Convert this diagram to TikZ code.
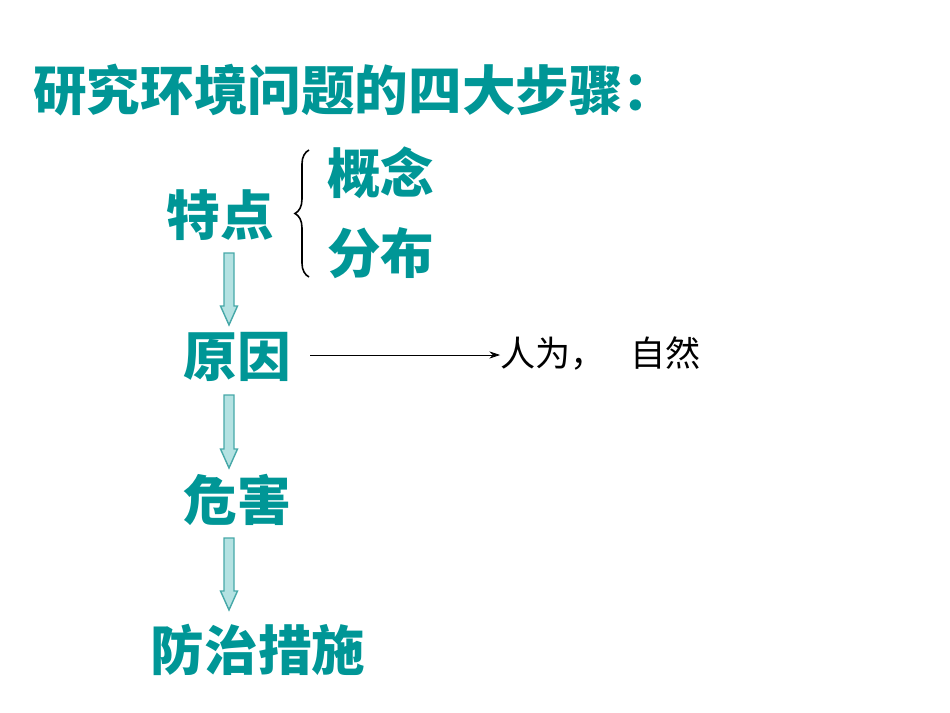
\documentclass[tikz,border=0pt]{standalone}
\usepackage{fontspec}
\setmainfont{Noto Sans CJK SC}
\usepackage{tikz}
\usetikzlibrary{decorations.pathreplacing}
\usetikzlibrary{arrows.meta}
\definecolor{tealtext}{RGB}{0,150,150}
\definecolor{arrowfill}{RGB}{180,226,226}
\definecolor{arrowline}{RGB}{70,168,168}

\begin{document}
\begin{tikzpicture}[x=0.02cm,y=-0.02cm,
  bigword/.style={text=tealtext,font=\fontsize{30.5}{33}\selectfont\bfseries,inner sep=0pt},
  smallword/.style={text=black,font=\fontsize{20}{23}\selectfont,inner sep=0pt},
  blockarrow/.style={draw=arrowline,fill=arrowfill,line width=0.8pt,line join=miter}]
  \useasboundingbox (0,0) rectangle (950,713);

  \node [bigword,anchor=west] (title) at (33,90) {研究环境问题的四大步骤：};

  \node [bigword] (tedian) at (220,215) {特点};
  \node [bigword,anchor=west] (gainian) at (327,173) {概念};
  \node [bigword,anchor=west] (fenbu) at (327,253) {分布};
  \coordinate (bracetop) at (309,150);
  \coordinate (bracebot) at (309,277);
  \draw [line width=0.9pt,decorate,decoration={brace,amplitude=8pt,mirror}] (bracetop) -- (bracebot);

  \node [bigword] (yuanyin) at (237,357) {原因};
  \node [smallword,anchor=west] (renwei) at (500,353) {人为，\hspace{0.7em}自然};
  \coordinate (linestart) at (310,355);
  \draw [-{Stealth[length=6pt,width=4pt]}] (linestart) -- (linestart -| renwei.west);

  \node [bigword] (weihai) at (237,500) {危害};
  \node [bigword] (fangzhi) at (258,650) {防治措施};

  % hollow down arrows between the steps
  \foreach \ytop/\ytip in {253/325, 395/468, 538/610}
    \draw [blockarrow] (224,\ytop) -- (234,\ytop) -- (234,\ytip-19) -- (237.5,\ytip-19)
      -- (229,\ytip) -- (220.5,\ytip-19) -- (224,\ytip-19) -- cycle;
\end{tikzpicture}
\end{document}
